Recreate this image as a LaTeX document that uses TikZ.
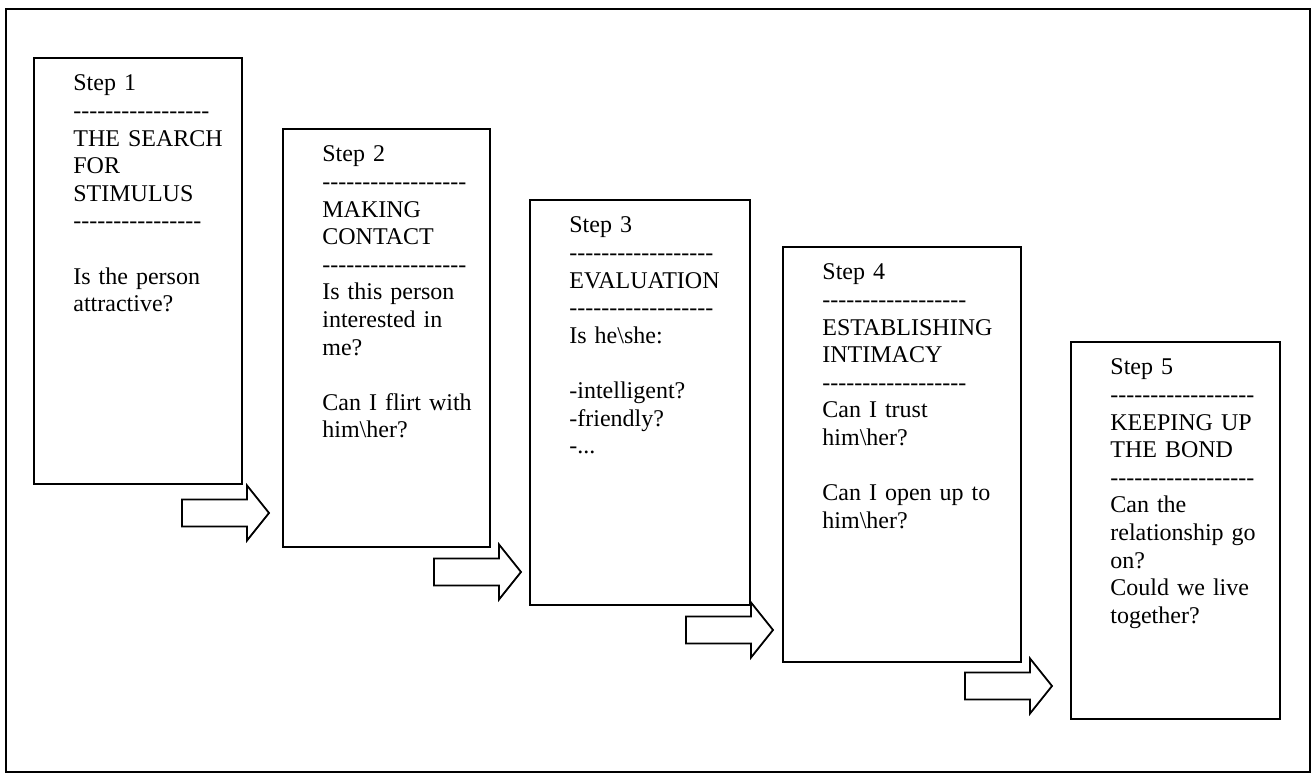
\documentclass[tikz,border=0pt]{standalone}
\usepackage{fontspec}
\setmainfont{Liberation Serif}
\usetikzlibrary{calc}
\def\blockarrow(#1,#2){\draw[arrowbox] (#1,#2) ++(0,-13.5) -- ++(65,0) -- ++(0,-14) -- ++(22,27.5) -- ++(-22,27.5) -- ++(0,-14) -- ++(-65,0) -- cycle;}
\newcommand{\dashrow}[1]{\foreach \k in {1,...,#1}{-\kern0pt}}

\begin{document}
\begin{tikzpicture}[x=0.5pt, y=-0.5pt,
		stepbox/.style={draw, line width=1pt, rectangle, anchor=north west, inner sep=0pt},
		steptext/.style={anchor=base west, inner sep=0pt, align=left, text width=95pt, font=\fontsize{12pt}{13.8pt}\selectfont},
		arrowbox/.style={draw, line width=0.9pt, line join=miter}]
			%%%%% START %%%%%
			
			\useasboundingbox (0,0) rectangle (1313,774);
			\draw[line width=0.9pt] (6,9) rectangle (1310,772);
			
			\node[stepbox, minimum width=104pt, minimum height=213pt] (s1) at (33,57) {};
			\node[steptext] (t1) at ($(s1.north west)+(40,34)$) {Step 1\\ \dashrow{17}\\ THE SEARCH\\ FOR\\ STIMULUS\\ \dashrow{16}\\[13.8pt] Is the person\\ attractive?};
			
			\node[stepbox, minimum width=103.5pt, minimum height=209pt] (s2) at (282,128) {};
			\node[steptext] (t2) at ($(s2.north west)+(40,34)$) {Step 2\\ \dashrow{18}\\ MAKING\\ CONTACT\\ \dashrow{18}\\ Is this person\\ interested in\\ me?\\[13.8pt] Can I flirt with\\ him\textbackslash her?};
			
			\node[stepbox, minimum width=110pt, minimum height=202.5pt] (s3) at (529,199) {};
			\node[steptext] (t3) at ($(s3.north west)+(40,34)$) {Step 3\\ \dashrow{18}\\ EVALUATION\\ \dashrow{18}\\ Is he\textbackslash she:\\[13.8pt] -intelligent?\\ -friendly?\\ -...};
			
			\node[stepbox, minimum width=119pt, minimum height=207.5pt] (s4) at (782,246) {};
			\node[steptext] (t4) at ($(s4.north west)+(40,34)$) {Step 4\\ \dashrow{18}\\ ESTABLISHING\\ INTIMACY\\ \dashrow{18}\\ Can I trust\\ him\textbackslash her?\\[13.8pt] Can I open up to\\ him\textbackslash her?};
			
			\node[stepbox, minimum width=104.5pt, minimum height=188.5pt] (s5) at (1070,341) {};
			\node[steptext] (t5) at ($(s5.north west)+(40,34)$) {Step 5\\ \dashrow{18}\\ KEEPING UP\\ THE BOND\\ \dashrow{18}\\ Can the\\ relationship go\\ on?\\ Could we live\\ together?};
			
			\blockarrow(182,513);
			\blockarrow(434,572);
			\blockarrow(686,630);
			\blockarrow(965,686);
			
			%%%%% END %%%%%
\end{tikzpicture}
\end{document}
